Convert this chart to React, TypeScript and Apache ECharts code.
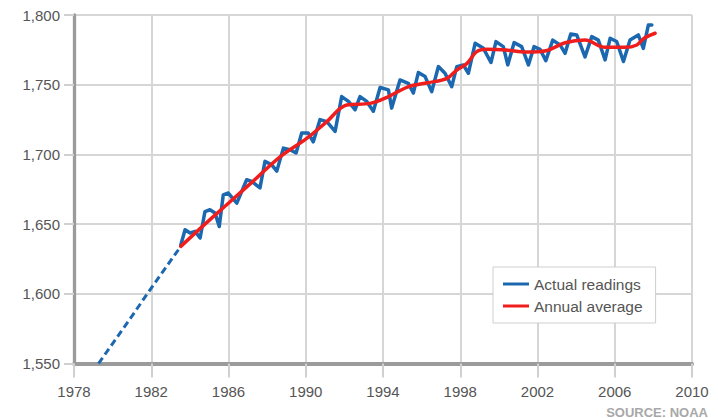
import React, { useEffect, useRef } from "react";
import * as echarts from "echarts";

// Axis ranges and tick steps
const yearRange = [1978, 2010];
const yearStep = 4;
const ppbRange = [1550, 1800];
const ppbStep = 50;

const legendNames = ["Actual readings", "Annual average"];
const sourceText = "SOURCE: NOAA";

// Early estimate (dashed part of the blue line)
const estimateYears = [1979.27, 1981.0, 1982.02, 1983.53];
const estimateValues = [1550, 1584, 1604.5, 1634];

// Actual readings (blue)
const readingYears = [
  1983.53, 1983.75, 1984.01, 1984.27, 1984.53, 1984.78, 1985.04, 1985.3, 1985.52, 1985.73,
  1985.99, 1986.43, 1986.94, 1987.2, 1987.63, 1987.89, 1988.24, 1988.5, 1988.84, 1989.19,
  1989.5, 1989.79, 1990.13, 1990.39, 1990.74, 1991.09, 1991.52, 1991.86, 1992.21, 1992.55,
  1992.81, 1993.16, 1993.5, 1993.85, 1994.28, 1994.45, 1994.88, 1995.31, 1995.57, 1995.83,
  1996.18, 1996.52, 1996.87, 1997.21, 1997.56, 1997.82, 1998.16, 1998.42, 1998.77, 1999.2,
  1999.59, 1999.85, 2000.23, 2000.46, 2000.79, 2001.18, 2001.53, 2001.82, 2002.13, 2002.43,
  2002.79, 2003.17, 2003.43, 2003.72, 2004.03, 2004.46, 2004.81, 2005.15, 2005.5, 2005.76,
  2006.1, 2006.45, 2006.79, 2007.22, 2007.48, 2007.74, 2007.92,
];
const readingValues = [
  1635, 1646, 1643.6, 1644.8, 1640, 1659, 1660.3, 1658, 1648.3, 1671,
  1672.3, 1665, 1681.8, 1680.6, 1676, 1695, 1692.5, 1688, 1704.5, 1703.3,
  1701, 1715.3, 1715.3, 1709, 1725, 1723.5, 1716.5, 1741.5, 1738, 1732,
  1741.5, 1738, 1731, 1748, 1746.3, 1733.2, 1753.4, 1751, 1744, 1758.7,
  1755.8, 1745, 1763, 1758.2, 1748.6, 1763, 1764.2, 1758.2, 1779.7, 1776.1,
  1765.9, 1780.9, 1777.3, 1764.2, 1780.2, 1777.3, 1764.2, 1777.3, 1775.4, 1767.3,
  1782, 1778.5, 1772.5, 1786.4, 1785.7, 1770, 1784.5, 1782, 1767.8, 1783.3,
  1781, 1766.6, 1782, 1785.7, 1776, 1792.8, 1792.8,
];

// Annual average (red)
const averageYears = [
  1983.53, 1984.78, 1986.08, 1987.37, 1988.67, 1990.05, 1991.05, 1992.12, 1993.33, 1994.26,
  1995.3, 1996.33, 1997.32, 1997.82, 1998.35, 1998.85, 1999.37, 2000.37, 2001.41, 2002.44,
  2003.43, 2004.46, 2005.5, 2006.53, 2007.14, 2007.52, 2008.09,
];
const averageValues = [
  1634, 1650, 1666, 1682, 1698.3, 1711.5, 1723, 1735.4, 1736.6, 1741.3,
  1748.5, 1751.4, 1754.6, 1760.5, 1765.3, 1773.7, 1775.4, 1774.9, 1773.4, 1774.4,
  1780.1, 1782, 1776.8, 1776.8, 1778.5, 1783.3, 1786.9,
];

const BLUE = "#1c68b0";
const RED = "#f01d1d";
const FONT = "'Liberation Sans', Arial, Helvetica, sans-serif";

const withCommas = (v: number) =>
  String(Math.round(v)).replace(/\B(?=(\d{3})+(?!\d))/g, ",");

export default function App() {
  const ref = useRef<HTMLDivElement>(null);

  useEffect(() => {
    if (!ref.current) return;
    const chart = echarts.init(ref.current, null, { renderer: "svg" });
    const pairs = (xs: number[], ys: number[]) => xs.map((x, i) => [x, ys[i]]);

    chart.setOption({
      animation: false,
      backgroundColor: "#ffffff",
      grid: {
        left: 74,
        top: 15,
        width: 618,
        height: 348.5,
        containLabel: false,
        outerBoundsMode: "none",
      },
      xAxis: {
        type: "value",
        min: yearRange[0],
        max: yearRange[1],
        interval: yearStep,
        axisLine: { show: true, onZero: false, lineStyle: { color: "#9b9b9b", width: 4 } },
        axisTick: { show: true, length: 14, lineStyle: { color: "#d0d0d0", width: 2 } },
        axisLabel: {
          margin: 20,
          color: "#555555",
          fontSize: 15,
          fontFamily: FONT,
          formatter: (v: number) => String(v),
        },
        splitLine: { show: true, lineStyle: { color: "#d6d6d6", width: 2 } },
      },
      yAxis: {
        type: "value",
        min: ppbRange[0],
        max: ppbRange[1],
        interval: ppbStep,
        axisLine: { show: true, onZero: false, lineStyle: { color: "#9b9b9b", width: 3.3 } },
        axisTick: { show: true, length: 10, lineStyle: { color: "#d0d0d0", width: 2 } },
        axisLabel: {
          margin: 14,
          color: "#555555",
          fontSize: 15,
          fontFamily: FONT,
          formatter: (v: number) => withCommas(v),
        },
        splitLine: { show: true, lineStyle: { color: "#d6d6d6", width: 2 } },
      },
      legend: {
        orient: "vertical",
        left: 493,
        top: 267,
        padding: [8, 13, 8, 10],
        itemGap: 4,
        itemWidth: 26,
        itemHeight: 3,
        icon: "rect",
        backgroundColor: "#ffffff",
        borderColor: "#cfcfcf",
        borderWidth: 1,
        textStyle: { color: "#555555", fontSize: 15.5, fontFamily: FONT, lineHeight: 18 },
        data: [
          { name: legendNames[0], itemStyle: { color: BLUE } },
          { name: legendNames[1], itemStyle: { color: RED } },
        ],
      },
      series: [
        {
          name: legendNames[0],
          type: "line",
          data: pairs(readingYears, readingValues),
          symbol: "none",
          showSymbol: false,
          itemStyle: { color: BLUE },
          lineStyle: { color: BLUE, width: 3.5, cap: "round", join: "round" },
          z: 2,
        },
        {
          name: "Estimate",
          type: "line",
          data: pairs(estimateYears, estimateValues),
          symbol: "none",
          showSymbol: false,
          itemStyle: { color: BLUE },
          lineStyle: { color: BLUE, width: 3, type: [7, 4] },
          z: 2,
        },
        {
          name: legendNames[1],
          type: "line",
          data: pairs(averageYears, averageValues),
          symbol: "none",
          showSymbol: false,
          smooth: 0.35,
          itemStyle: { color: RED },
          lineStyle: { color: RED, width: 3.5, cap: "round", join: "round" },
          z: 3,
        },
      ],
      graphic: [
        {
          type: "text",
          x: 708,
          y: 405.5,
          style: {
            text: sourceText,
            fill: "#a8a8a8",
            font: `bold 13px ${FONT}`,
            align: "right",
            verticalAlign: "top",
          },
        },
      ],
    });

    return () => chart.dispose();
  }, []);

  return (
    <div
      ref={ref}
      style={{ position: "absolute", left: 0, top: 0, width: 718, height: 418 }}
    />
  );
}
